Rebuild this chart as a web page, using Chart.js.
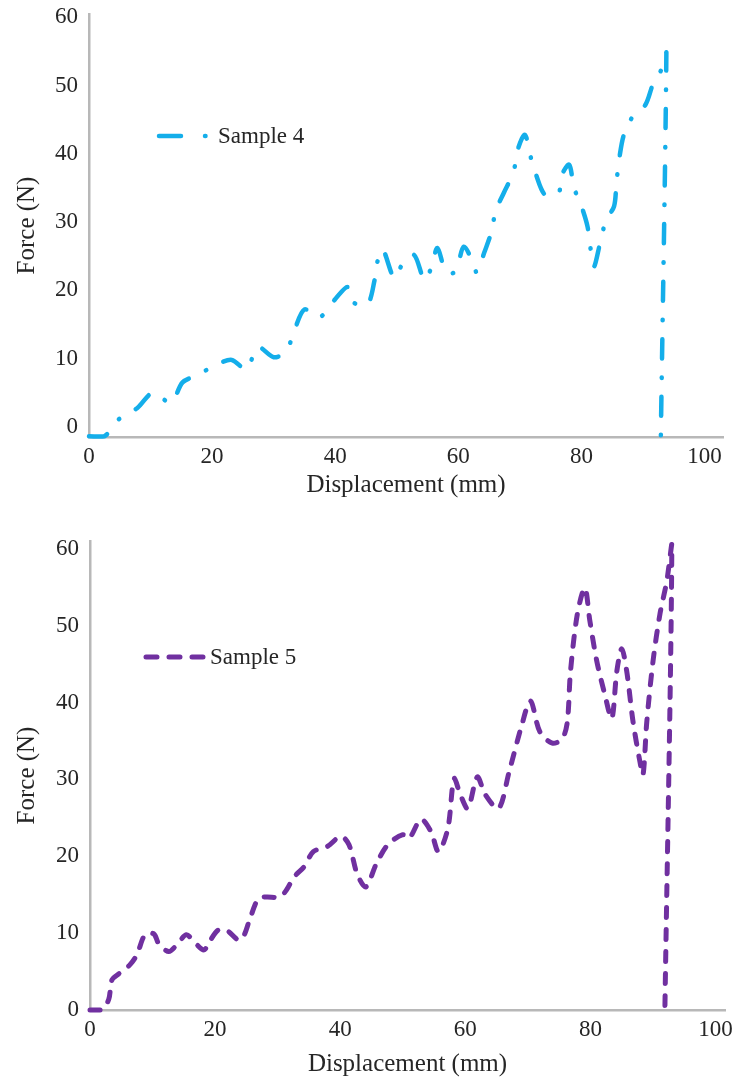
<!DOCTYPE html>
<html lang="en">
<head>
    <meta charset="UTF-8">
    <title>Force vs Displacement</title>
    <script src="https://cdn.jsdelivr.net/npm/chart.js@4.4.1/dist/chart.umd.min.js"></script>
    <style>
        body {
            margin: 0;
            background: #fff;
            width: 734px;
            height: 1081px;
            position: relative;
            overflow: hidden;
        }
        canvas {
            position: absolute;
            left: 0;
        }
        #chart4 { top: 0; }
        #chart5 { top: 520px; }
    </style>
</head>
<body>
    <canvas id="chart4" width="734" height="500"></canvas>
    <canvas id="chart5" width="734" height="561"></canvas>

    <script>
        // Sample 4
        const sample4X = [0, 2.5, 4.7, 7.9, 10.4, 13.3, 15.2, 17.7, 20.7, 23.2, 25.6, 27.4, 30, 32, 33.4, 35, 37.4, 39.9, 42, 42.8,
            45.2, 46.4, 46.8, 47.7, 49.6, 50.9, 52.8, 54.5, 55.6, 56.6, 58, 59.5, 60.9, 62.5, 63, 64.2, 65.5, 66, 67.4, 69,
            69.5, 70.8, 71.8, 72.6, 74.1, 76.3, 76.7, 78, 78.8, 79.9, 81, 82, 83, 84, 85.3, 85.7, 86.2, 86.9, 88.5, 90.4,
            91.7, 93.4, 93.8, 92.9];
        const sample4Y = [-1.4, -1.4, 1, 2.8, 5, 3.5, 6.5, 7.6, 9.1, 9.8, 8.4, 11.7, 10.2, 11, 14.2, 17.2, 16, 18.6, 20.5, 18.3,
            17.9, 21.5, 24, 26, 21.8, 23.8, 25.2, 21.5, 23.3, 26.2, 22.7, 22.7, 26.4, 23.8, 22.6, 25.5, 28.9, 31.5, 34.3, 37.4,
            40.2, 42.8, 39.4, 37, 34, 34.3, 36.7, 38.4, 35, 32.6, 29.3, 23.5, 26.8, 30.3, 32.3, 35.9, 39.6, 42.8, 45.7, 47.2,
            50.4, 53, 54.8, -1.4];

        // Sample 5
        const sample5X = [0, 1.9, 3, 3.5, 4.6, 6.4, 7.5, 8.8, 10.2, 11, 12.6, 13.9, 15.4, 16.6, 18.2, 19.1, 20.5, 21.8, 23.7, 24.5,
            25.5, 26.9, 28.2, 30.3, 31.4, 32.6, 34.2, 35.7, 38, 40.1, 41.4, 42.7, 44.1, 45.7, 47.6, 50, 51, 52.9, 54.5, 55.7,
            57.2, 58.2, 59.2, 60.4, 61.9, 63.2, 65.3, 67, 69, 70.4, 71.9, 73.9, 75.5, 76.3, 76.8, 77.9, 79.1, 79.9, 81, 82.3,
            83.4, 84.2, 85, 85.8, 86.8, 87.9, 88.4, 89, 90, 91.1, 92.2, 93, 91.9];
        const sample5Y = [0, 0, 1.4, 3.9, 4.7, 5.9, 7.2, 9.8, 9.9, 8.6, 7.6, 8.5, 9.8, 8.9, 7.8, 8.9, 10.4, 10.4, 9.1, 9.5,
            11.7, 14.5, 14.7, 14.7, 15.6, 17.3, 18.6, 20.6, 21.3, 22.6, 21.5, 17.7, 16, 18.9, 21.5, 22.8, 22.3, 24.8, 23.2, 20.6,
            23.6, 30.1, 28, 26.2, 30.3, 28, 26.2, 31, 37, 40.2, 36.2, 34.7, 35.3, 37.5, 44, 51.5, 54.9, 50.6, 45.4, 41,
            37.9, 44, 47, 44, 37.5, 32.3, 30.6, 37.5, 45.4, 51.5, 55.8, 60.6, 0.5];

        const xTicks = [0, 20, 40, 60, 80, 100];
        const yTicks = [0, 10, 20, 30, 40, 50, 60];

        const serif = '"Liberation Serif", "Times New Roman", serif';
        const textColor = '#262626';
        const axisColor = '#b8b8b8';

        // legend drawn inside the plot, like the original
        const insideLegend = {
            id: 'insideLegend',
            afterDatasetsDraw(chart, args, opts) {
                const ds = chart.data.datasets[0];
                const ctx = chart.ctx;
                ctx.save();
                ctx.strokeStyle = ds.borderColor;
                ctx.lineWidth = ds.borderWidth;
                ctx.lineCap = 'round';
                ctx.setLineDash(opts.dash);
                ctx.beginPath();
                ctx.moveTo(opts.x, opts.y);
                ctx.lineTo(opts.x + opts.len, opts.y);
                ctx.stroke();
                ctx.setLineDash([]);
                ctx.fillStyle = textColor;
                ctx.font = '23px ' + serif;
                ctx.textBaseline = 'middle';
                ctx.fillText(ds.label, opts.textX, opts.y + 1);
                ctx.restore();
            }
        };

        function makeChart(id, label, xs, ys, style) {
            const points = xs.map((x, i) => ({ x: x, y: ys[i] }));
            return new Chart(document.getElementById(id), {
                type: 'line',
                data: {
                    datasets: [{
                        label: label,
                        data: points,
                        borderColor: style.color,
                        borderWidth: style.width,
                        borderDash: style.dash,
                        borderCapStyle: 'round',
                        pointRadius: 0,
                        tension: 0.3,
                        fill: false,
                        clip: false
                    }]
                },
                options: {
                    responsive: false,
                    animation: false,
                    devicePixelRatio: 1,
                    layout: { padding: style.padding },
                    plugins: {
                        legend: { display: false },
                        tooltip: { enabled: false },
                        insideLegend: style.legend
                    },
                    scales: {
                        x: {
                            type: 'linear',
                            min: 0,
                            max: style.xMax,
                            afterBuildTicks: s => { s.ticks = xTicks.map(v => ({ value: v })); },
                            afterFit: s => {
                                s.height = style.xHeight;
                                s.paddingLeft = 0;
                                s.paddingRight = 0;
                            },
                            grid: { display: false, drawTicks: false },
                            border: { display: true, color: axisColor, width: 2.5 },
                            ticks: {
                                padding: 6,
                                color: textColor,
                                font: { family: serif, size: 23 },
                                maxRotation: 0
                            },
                            title: {
                                display: true,
                                text: 'Displacement (mm)',
                                color: textColor,
                                font: { family: serif, size: 25 },
                                padding: { top: 0, bottom: style.xTitlePad }
                            }
                        },
                        y: {
                            type: 'linear',
                            min: style.yMin,
                            max: style.yMax,
                            afterBuildTicks: s => { s.ticks = yTicks.map(v => ({ value: v })); },
                            afterFit: s => {
                                s.width = style.yWidth;
                                s.paddingTop = 0;
                                s.paddingBottom = 0;
                            },
                            grid: { display: false, drawTicks: false },
                            border: { display: true, color: axisColor, width: 2.5 },
                            ticks: {
                                padding: 11,
                                color: textColor,
                                font: { family: serif, size: 23 }
                            },
                            title: {
                                display: true,
                                text: 'Force (N)',
                                color: textColor,
                                font: { family: serif, size: 25 },
                                padding: { top: 12, bottom: 0 }
                            }
                        }
                    }
                },
                plugins: [insideLegend]
            });
        }

        makeChart('chart4', 'Sample 4', sample4X, sample4Y, {
            color: '#14aeea',
            width: 4.5,
            dash: [19, 19, 0.5, 19],
            padding: { top: 14, right: 11, left: 0, bottom: 0 },
            xMax: 103,
            yMin: -1.5,
            yMax: 60.5,
            xHeight: 63,
            yWidth: 89,
            xTitlePad: 0,
            legend: { x: 159, y: 136, len: 48, dash: [22, 24, 0.5, 40], textX: 218 }
        });

        makeChart('chart5', 'Sample 5', sample5X, sample5Y, {
            color: '#7030a0',
            width: 5,
            dash: [10, 12],
            padding: { top: 21, right: 9, left: 0, bottom: 0 },
            xMax: 101.5,
            yMin: 0,
            yMax: 61,
            xHeight: 71,
            yWidth: 90,
            xTitlePad: 2,
            legend: { x: 146, y: 137, len: 60, dash: [11, 12], textX: 210 }
        });
    </script>
</body>
</html>
